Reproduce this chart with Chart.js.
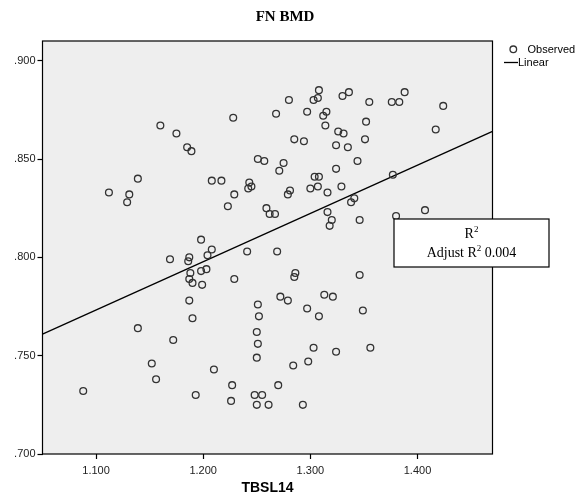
<!DOCTYPE html>
<html>
<head>
<meta charset="utf-8">
<script src="https://cdn.jsdelivr.net/npm/chart.js@4/dist/chart.umd.min.js"></script>
<style>
  body { margin: 0; background: #fff; }
</style>
</head>
<body>
<canvas id="myChart" width="578" height="500"></canvas>
<script>
// TBSL14 (x) against FN BMD (y)
const tbsl = [
  1.160, 1.175, 1.185, 1.189, 1.139, 1.112, 1.131, 1.129, 1.308, 1.280,
  1.303, 1.307, 1.228, 1.268, 1.297, 1.315, 1.312, 1.314, 1.285, 1.294,
  1.251, 1.257, 1.275, 1.271, 1.208, 1.217, 1.243, 1.245, 1.242, 1.281,
  1.279, 1.304, 1.308, 1.300, 1.307, 1.316, 1.229, 1.223, 1.259, 1.262,
  1.267, 1.316, 1.330, 1.336, 1.355, 1.376, 1.383, 1.388, 1.424, 1.352,
  1.326, 1.331, 1.417, 1.351, 1.324, 1.335, 1.344, 1.324, 1.377, 1.329,
  1.341, 1.338, 1.320, 1.318, 1.346, 1.380, 1.407, 1.346, 1.313, 1.321,
  1.349, 1.198, 1.208, 1.187, 1.186, 1.204, 1.241, 1.269, 1.188, 1.198,
  1.203, 1.187, 1.190, 1.199, 1.229, 1.286, 1.285, 1.187, 1.272, 1.279,
  1.251, 1.297, 1.308, 1.190, 1.252, 1.250, 1.169, 1.139, 1.172, 1.152,
  1.156, 1.088, 1.251, 1.250, 1.303, 1.210, 1.284, 1.298, 1.227, 1.270,
  1.193, 1.226, 1.248, 1.255, 1.250, 1.261, 1.293, 1.324, 1.356
];
const fnbmd = [
  0.867, 0.863, 0.856, 0.854, 0.840, 0.833, 0.832, 0.828, 0.885, 0.880,
  0.880, 0.881, 0.871, 0.873, 0.874, 0.874, 0.872, 0.867, 0.860, 0.859,
  0.850, 0.849, 0.848, 0.844, 0.839, 0.839, 0.838, 0.836, 0.835, 0.834,
  0.832, 0.841, 0.841, 0.835, 0.836, 0.833, 0.832, 0.826, 0.825, 0.822,
  0.822, 0.823, 0.882, 0.884, 0.879, 0.879, 0.879, 0.884, 0.877, 0.869,
  0.864, 0.863, 0.865, 0.860, 0.857, 0.856, 0.849, 0.845, 0.842, 0.836,
  0.830, 0.828, 0.819, 0.816, 0.819, 0.821, 0.824, 0.791, 0.781, 0.780,
  0.773, 0.809, 0.804, 0.800, 0.798, 0.801, 0.803, 0.803, 0.792, 0.793,
  0.794, 0.789, 0.787, 0.786, 0.789, 0.792, 0.790, 0.778, 0.780, 0.778,
  0.776, 0.774, 0.770, 0.769, 0.770, 0.762, 0.799, 0.764, 0.758, 0.746,
  0.738, 0.732, 0.756, 0.749, 0.754, 0.743, 0.745, 0.747, 0.735, 0.735,
  0.730, 0.727, 0.730, 0.730, 0.725, 0.725, 0.725, 0.752, 0.754
];

// linear fit, ends at the plot edges
const fitX = [1.05, 1.47];
const fitY = [0.761, 0.864];

const xTicks = [1.1, 1.2, 1.3, 1.4];
const yTicks = [0.70, 0.75, 0.80, 0.85, 0.90];
const xRange = [1.05, 1.47];
const yRange = [0.70, 0.910];

const chartTitle = 'FN BMD';
const xTitle = 'TBSL14';
const legendText = ['Observed', 'Linear'];
const rsqLines = ['R', 'Adjust R', ' 0.004'];

const ink = '#000';
const sans = "'Liberation Sans', Arial, sans-serif";
const serif = "'Liberation Serif', 'Times New Roman', serif";

// plot background, frame, title, legend and the R square box
const decor = {
  id: 'decor',
  beforeDatasetsDraw(chart) {
    const { ctx, chartArea: a } = chart;
    ctx.save();
    ctx.fillStyle = '#eeeeee';
    ctx.fillRect(a.left, a.top, a.right - a.left, a.bottom - a.top);
    ctx.restore();
  },
  afterDraw(chart) {
    const { ctx, chartArea: a } = chart;
    ctx.save();
    ctx.strokeStyle = ink;
    ctx.lineWidth = 1.2;
    ctx.strokeRect(a.left, a.top, a.right - a.left, a.bottom - a.top);

    // title
    ctx.fillStyle = ink;
    ctx.font = 'bold 15px ' + serif;
    ctx.textAlign = 'center';
    ctx.textBaseline = 'middle';
    ctx.fillText(chartTitle, 285, 17);

    // legend
    ctx.font = '11px ' + sans;
    ctx.textAlign = 'left';
    ctx.lineWidth = 1.3;
    ctx.strokeStyle = '#333';
    ctx.beginPath();
    ctx.arc(513.3, 49.3, 3.3, 0, Math.PI * 2);
    ctx.stroke();
    ctx.fillText(legendText[0], 527.5, 49.5);
    ctx.strokeStyle = ink;
    ctx.beginPath();
    ctx.moveTo(504, 62.5);
    ctx.lineTo(518, 62.5);
    ctx.stroke();
    ctx.fillText(legendText[1], 518, 63);

    // R square box
    ctx.fillStyle = '#fff';
    ctx.fillRect(394, 219, 155, 48);
    ctx.strokeStyle = ink;
    ctx.lineWidth = 1.2;
    ctx.strokeRect(394, 219, 155, 48);
    ctx.fillStyle = ink;
    ctx.font = '14px ' + serif;
    ctx.textBaseline = 'alphabetic';
    const cx = 471.5;
    let w1 = ctx.measureText(rsqLines[0]).width;
    ctx.font = '9px ' + serif;
    let s = ctx.measureText('2').width;
    let x0 = cx - (w1 + s) / 2;
    ctx.font = '14px ' + serif;
    ctx.fillText(rsqLines[0], x0, 238);
    ctx.font = '9px ' + serif;
    ctx.fillText('2', x0 + w1, 232);

    ctx.font = '14px ' + serif;
    let wa = ctx.measureText(rsqLines[1]).width;
    let wb = ctx.measureText(rsqLines[2]).width;
    x0 = cx - (wa + s + wb) / 2;
    ctx.fillText(rsqLines[1], x0, 257);
    ctx.font = '9px ' + serif;
    ctx.fillText('2', x0 + wa, 251);
    ctx.font = '14px ' + serif;
    ctx.fillText(rsqLines[2], x0 + wa + s, 257);
    ctx.restore();
  }
};

const ctx = document.getElementById('myChart').getContext('2d');

new Chart(ctx, {
  type: 'scatter',
  data: {
    datasets: [
      {
        label: 'Observed',
        data: tbsl.map((v, i) => ({ x: v, y: fnbmd[i] })),
        pointStyle: 'circle',
        pointRadius: 3.4,
        pointBorderWidth: 1.3,
        pointBorderColor: '#333',
        pointBackgroundColor: 'rgba(0,0,0,0)',
        showLine: false
      },
      {
        label: 'Linear',
        type: 'line',
        data: fitX.map((v, i) => ({ x: v, y: fitY[i] })),
        borderColor: ink,
        borderWidth: 1.3,
        pointRadius: 0,
        fill: false,
        tension: 0
      }
    ]
  },
  options: {
    responsive: false,
    animation: false,
    events: [],
    layout: { padding: { left: 0, right: 85.5, top: 41, bottom: 0 } },
    plugins: {
      legend: { display: false },
      title: { display: false },
      tooltip: { enabled: false }
    },
    scales: {
      x: {
        type: 'linear',
        min: xRange[0],
        max: xRange[1],
        afterBuildTicks: s => { s.ticks = xTicks.map(v => ({ value: v })); },
        afterFit: s => { s.height = 46; },
        grid: { drawOnChartArea: false, drawTicks: true, tickLength: 5, tickColor: ink, tickWidth: 1.2 },
        border: { display: false },
        ticks: {
          autoSkip: false,
          maxRotation: 0,
          padding: 5,
          color: '#222',
          font: { family: sans, size: 11 },
          callback: v => v.toFixed(3)
        },
        title: {
          display: true,
          text: xTitle,
          color: ink,
          font: { family: sans, size: 14, weight: 'bold' },
          padding: { top: 0, bottom: 3 }
        }
      },
      y: {
        min: yRange[0],
        max: yRange[1],
        afterBuildTicks: s => { s.ticks = yTicks.map(v => ({ value: v })); },
        afterFit: s => { s.width = 42.5; },
        grid: { drawOnChartArea: false, drawTicks: true, tickLength: 5, tickColor: ink, tickWidth: 1.2 },
        border: { display: false },
        ticks: {
          autoSkip: false,
          padding: 2,
          color: '#222',
          font: { family: sans, size: 11 },
          callback: v => v.toFixed(3).replace(/^0/, '')
        }
      }
    }
  },
  plugins: [decor]
});
</script>
</body>
</html>
